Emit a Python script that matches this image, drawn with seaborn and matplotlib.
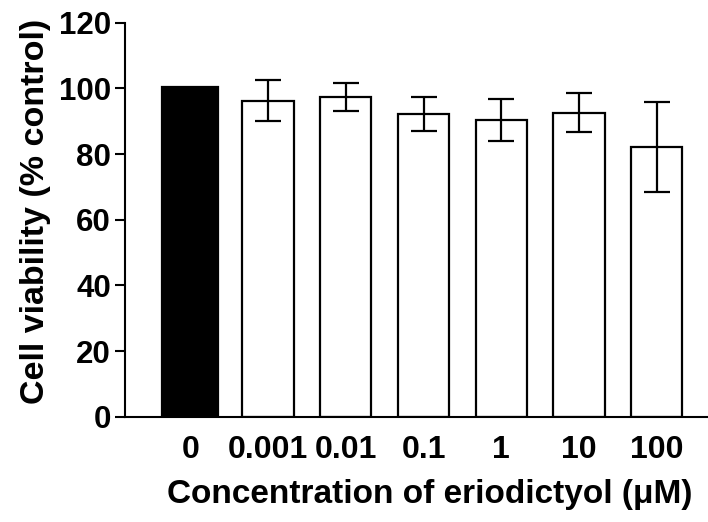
import matplotlib
matplotlib.use("Agg")
import matplotlib.pyplot as plt
import seaborn as sns
import pandas as pd
import numpy as np

concentrations = ["0", "0.001", "0.01", "0.1", "1", "10", "100"]
viability_mean = [100.5, 96.2, 97.4, 92.2, 90.4, 92.6, 82.2]
viability_sd = [0.0, 6.2, 4.3, 5.3, 6.3, 5.85, 13.7]
bar_colors = ["black", "white", "white", "white", "white", "white", "white"]
y_ticks = [0, 20, 40, 60, 80, 100, 120]

sns.set_theme(style="ticks")
plt.rcParams["font.family"] = ["Liberation Sans", "DejaVu Sans"]
plt.rcParams["font.weight"] = "bold"
plt.rcParams["text.color"] = "black"
plt.rcParams["axes.labelcolor"] = "black"
plt.rcParams["xtick.color"] = "black"
plt.rcParams["ytick.color"] = "black"

df = pd.DataFrame({"conc": concentrations, "mean": viability_mean, "sd": viability_sd})

fig = plt.figure(figsize=(7.08, 5.22), dpi=100)
ax = fig.add_axes([125 / 708, 1 - 416.7 / 522, 1 - 125 / 708 + 0.01, (416.7 - 22.7) / 522])

sns.barplot(data=df, x="conc", y="mean", hue="conc", palette=bar_colors, legend=False,
            edgecolor="black", linewidth=1.6, width=0.66, errorbar=None, ax=ax, zorder=2)

# widen the control (black) bar slightly
p0 = ax.patches[0]
cx = p0.get_x() + p0.get_width() / 2
p0.set_width(0.72)
p0.set_x(cx - 0.36)

xpos = np.arange(len(concentrations))
mask = np.array(viability_sd) > 0
ax.errorbar(xpos[mask], np.array(viability_mean)[mask], yerr=np.array(viability_sd)[mask],
            fmt="none", ecolor="black", elinewidth=1.6, capsize=9.4, capthick=1.6, zorder=3)

ax.set_ylim(0, 120)
ax.set_xlim(-0.84, 6.75)
ax.set_yticks(y_ticks)
ax.set_yticklabels([str(t) for t in y_ticks], fontsize=22.5, fontweight="bold", color="black")
ax.set_xticks(xpos)
ax.set_xticklabels(concentrations, fontsize=23, fontweight="bold", color="black")

ax.tick_params(axis="y", length=7, width=1.5, pad=3, color="black")
ax.tick_params(axis="x", length=0, pad=13)

for side in ["top", "right"]:
    ax.spines[side].set_visible(False)
for side in ["left", "bottom"]:
    ax.spines[side].set_linewidth(1.5)
    ax.spines[side].set_color("black")

ax.set_ylabel("Cell viability (% control)", fontsize=24.5, fontweight="bold", labelpad=6, color="black")
ax.set_xlabel("Concentration of eriodictyol (\u03bcM)", fontsize=24, fontweight="bold", labelpad=10, color="black")
ax.xaxis.label.set_x(0.516)
ax.yaxis.label.set_y(0.522)

fig.savefig("out.png", dpi=100)
